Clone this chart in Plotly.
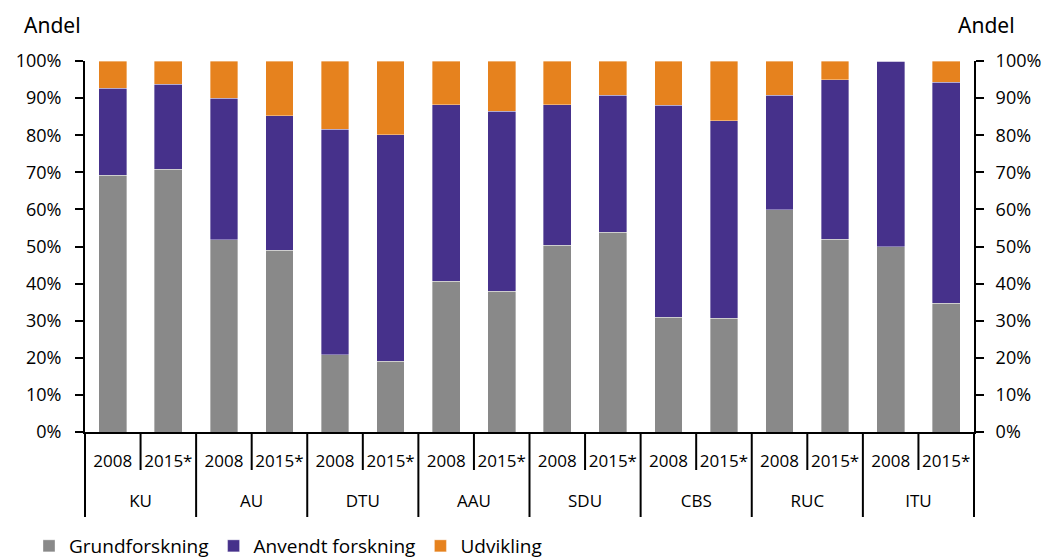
import plotly.graph_objects as go

universities = ["KU", "AU", "DTU", "AAU", "SDU", "CBS", "RUC", "ITU"]
years = ["2008", "2015*"]

# Shares (fraction of total), order: KU08, KU15, AU08, AU15, ...
grundforskning = [0.692, 0.708, 0.518, 0.490, 0.208, 0.191, 0.407, 0.380,
                  0.503, 0.538, 0.309, 0.306, 0.599, 0.519, 0.500, 0.347]
anvendt_forskning = [0.235, 0.230, 0.382, 0.362, 0.608, 0.610, 0.475, 0.485,
                     0.379, 0.370, 0.572, 0.533, 0.309, 0.430, 0.500, 0.596]
udvikling = [0.073, 0.062, 0.100, 0.148, 0.184, 0.199, 0.118, 0.135,
             0.118, 0.092, 0.119, 0.161, 0.092, 0.051, 0.000, 0.057]

y_ticks = [i / 10 for i in range(11)]

n_years = len(years)
inner_labels = [y for _ in universities for y in years]
n = len(inner_labels)
x_pos = list(range(n))                                   # one slot per (university, year)
group_centers = [g * n_years + (n_years - 1) / 2 for g in range(len(universities))]
x_range = [-0.5, n - 0.5]

FONT = "Open Sans"
GRAY = "#898989"
PURPLE = "#46318B"
ORANGE = "#E6821E"

fig = go.Figure()
for name, vals, col in [("Grundforskning", grundforskning, GRAY),
                        ("Anvendt forskning", anvendt_forskning, PURPLE),
                        ("Udvikling", udvikling, ORANGE)]:
    fig.add_trace(go.Bar(x=x_pos, y=vals, name=name, marker_color=col,
                         marker_line=dict(color="rgba(255,255,255,0.6)", width=0.6)))

# invisible trace to carry the secondary axes (university row and right-hand axis)
fig.add_trace(go.Scatter(x=x_pos, y=[None] * n, xaxis="x2", yaxis="y2", mode="lines",
                         showlegend=False, hoverinfo="skip"))

PLOT_W = 889
PLOT_H = 371
PLOT_BOTTOM = 432
shapes = []
for i in range(n + 1):
    xp = i / n
    group_edge = (i % n_years == 0)
    shapes.append(dict(type="line", xref="paper", yref="paper",
                       x0=xp, x1=xp, y0=0, y1=-(85 if group_edge else 38) / PLOT_H,
                       line=dict(color="black", width=2)))

yax = dict(range=[0, 1], tickvals=y_ticks, tickformat=".0%",
           showline=True, linecolor="black", linewidth=2,
           ticks="outside", ticklen=8, tickwidth=2, tickcolor="black",
           showgrid=False, zeroline=False, automargin=False,
           tickfont=dict(family=FONT, size=18))

title_y = (PLOT_BOTTOM - 25) / PLOT_H

fig.update_layout(
    width=1051, height=559,
    margin=dict(l=85, r=77, t=61, b=127, autoexpand=False),
    paper_bgcolor="white", plot_bgcolor="white",
    barmode="stack", bargap=0.5,
    font=dict(family=FONT, size=17, color="black"),
    shapes=shapes,
    xaxis=dict(range=x_range, tickvals=x_pos, ticktext=inner_labels, tickangle=0,
               ticks="", ticklabelstandoff=13,
               showline=True, linecolor="black", linewidth=2, automargin=False,
               tickfont=dict(family=FONT, size=17), showgrid=False, zeroline=False),
    xaxis2=dict(range=x_range, tickvals=group_centers, ticktext=universities, tickangle=0,
                overlaying="x", side="bottom", anchor="y2",
                ticks="", ticklabelstandoff=57, showline=False, automargin=False,
                tickfont=dict(family=FONT, size=17), showgrid=False, zeroline=False),
    yaxis=dict(yax, ticklabelstandoff=10),
    yaxis2=dict(yax, overlaying="y", side="right", anchor="x", ticklabelstandoff=8),
    legend=dict(orientation="h", xref="container", yref="container",
                x=29 / 1051, xanchor="left", y=13 / 559, yanchor="middle",
                font=dict(family=FONT, size=19), traceorder="normal"),
    annotations=[
        dict(text="Andel", xref="paper", yref="paper", x=(22 - 85) / PLOT_W, y=title_y,
             xanchor="left", yanchor="middle", showarrow=False,
             font=dict(family="Noto Sans", size=21)),
        dict(text="Andel", xref="paper", yref="paper", x=1 + 43 / PLOT_W, y=title_y,
             xanchor="right", yanchor="middle", showarrow=False,
             font=dict(family="Noto Sans", size=21)),
    ],
)

fig.write_html("out.html", config={"displayModeBar": False},
               post_script="document.body.style.margin='0px';")
